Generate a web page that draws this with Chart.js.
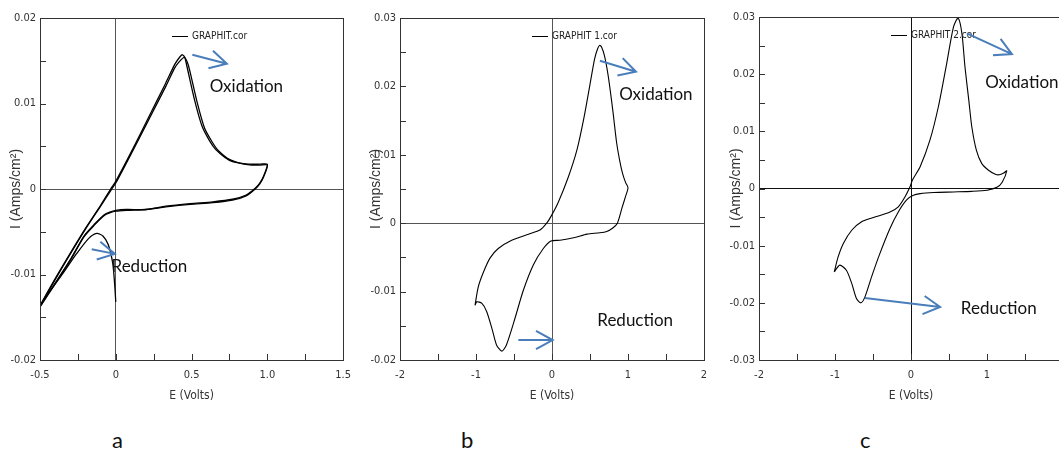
<!DOCTYPE html>
<html>
<head>
<meta charset="utf-8">
<script src="https://cdn.jsdelivr.net/npm/chart.js@4.4.0/dist/chart.umd.min.js"></script>
<style>
  html, body { margin: 0; padding: 0; background: #fff; overflow: hidden; }
  body { width: 1059px; height: 456px; position: relative; }
  canvas { position: absolute; top: 0; }
  .tag { position: absolute; top: 427px; font: 22px Lato, 'Open Sans', sans-serif; line-height: 26px; color: #111; }
</style>
</head>
<body>
<canvas id="chartA" width="360" height="420" style="left:0px"></canvas>
<canvas id="chartB" width="360" height="420" style="left:360px"></canvas>
<canvas id="chartC" width="360" height="420" style="left:720px"></canvas>
<div class="tag" style="left:112px">a</div>
<div class="tag" style="left:461px">b</div>
<div class="tag" style="left:860px">c</div>
<script>
// panel a : GRAPHIT.cor (start transient + two cycles)
var aE1 = [0, -0.008, -0.02, -0.05, -0.085, -0.125, -0.18, -0.26, -0.35, -0.44, -0.5,
  -0.41, -0.3, -0.2, -0.1, -0.03, 0, 0.11, 0.22, 0.33, 0.39, 0.425, 0.44, 0.455, 0.47, 0.52, 0.57, 0.62, 0.66, 0.72, 0.77, 0.83, 0.88, 0.95, 1.0,
  0.975, 0.95, 0.92, 0.86, 0.77, 0.64, 0.49, 0.33, 0.2, 0.07, 0, -0.04, -0.076, -0.14, -0.21, -0.295, -0.4, -0.5];
var aI1 = [-0.0132, -0.011, -0.0087, -0.0065, -0.0055, -0.0052, -0.0058, -0.0076, -0.0099, -0.0121, -0.0137,
  -0.0108, -0.0075, -0.0046, -0.0019, 0.0001, 0.0009, 0.0046, 0.0085, 0.0124, 0.0146, 0.0155, 0.0157, 0.0154, 0.0143, 0.0104, 0.0073, 0.0056, 0.0046, 0.0037, 0.0032, 0.003, 0.0029, 0.0029, 0.0029,
  0.0015, 0.0007, 0.0001, -0.0007, -0.0012, -0.0015, -0.0017, -0.002, -0.0024, -0.0024, -0.0025, -0.0027, -0.003, -0.0041, -0.0055, -0.0081, -0.011, -0.0137];
var aE2 = [-0.5, -0.4, -0.3, -0.2, -0.1, -0.03, 0, 0.11, 0.22, 0.33, 0.39, 0.43, 0.452, 0.47, 0.486, 0.536, 0.586, 0.636, 0.676, 0.736, 0.786, 0.846, 0.896, 0.95, 1.0,
  0.975, 0.95, 0.92, 0.86, 0.77, 0.64, 0.49, 0.33, 0.2, 0.07, 0, -0.04, -0.076, -0.14, -0.21, -0.295, -0.4, -0.5];
var aI2 = [-0.0137, -0.0106, -0.0076, -0.0047, -0.002, -0.0001, 0.0007, 0.0044, 0.0082, 0.012, 0.0142, 0.0151, 0.0154, 0.0149, 0.014, 0.0102, 0.0071, 0.0055, 0.0045, 0.0036, 0.0032, 0.0029, 0.0028, 0.0028, 0.0028,
  0.0014, 0.0006, 0.0, -0.0008, -0.0013, -0.0016, -0.0018, -0.0021, -0.0024, -0.0025, -0.0026, -0.0028, -0.0031, -0.0042, -0.0056, -0.0082, -0.0111, -0.0138];

// panel b : GRAPHIT 1.cor
var bE = [-1.013, -0.99, -0.925, -0.86, -0.79, -0.73, -0.66, -0.6, -0.487, -0.377, -0.246, -0.114, -0.013, 0.105, 0.3, 0.46, 0.63, 0.72, 0.8, 0.86, 0.92, 0.97, 1.0,
  0.97, 0.93, 0.89, 0.85, 0.8, 0.74, 0.69, 0.65, 0.625, 0.6, 0.56, 0.5, 0.42, 0.33, 0.21, 0.08, -0.013, -0.07, -0.158, -0.31, -0.53, -0.707, -0.816, -0.9, -0.97, -1.013];
var bI = [-0.012, -0.0115, -0.0117, -0.0129, -0.0154, -0.0178, -0.0187, -0.0178, -0.0139, -0.0098, -0.0061, -0.0037, -0.0026, -0.0025, -0.0021, -0.0016, -0.0014, -0.0012, -0.0007, 0.0, 0.0022, 0.004, 0.0052,
  0.0059, 0.0072, 0.0092, 0.0118, 0.0165, 0.0215, 0.0245, 0.0258, 0.026, 0.0255, 0.024, 0.0203, 0.0154, 0.0108, 0.0066, 0.003, 0.001, 0.0, -0.001, -0.0016, -0.0025, -0.0037, -0.0051, -0.0071, -0.0093, -0.012];

// panel c : GRAPHIT 2.cor
var cE = [-1.01, -0.937, -0.85, -0.78, -0.716, -0.66, -0.607, -0.52, -0.41, -0.277, -0.167, -0.057, 0.03, 0.12, 0.3, 0.56, 0.8, 1.0, 1.13, 1.2, 1.26,
  1.22, 1.16, 1.11, 1.02, 0.93, 0.86, 0.8, 0.76, 0.71, 0.67, 0.62, 0.56, 0.47, 0.36, 0.25, 0.12, 0.02, -0.013, -0.08, -0.167, -0.277, -0.475, -0.65, -0.78, -0.89, -0.96, -1.01];
var cI = [-0.0146, -0.0134, -0.0143, -0.0166, -0.0193, -0.02, -0.019, -0.0155, -0.0114, -0.007, -0.0041, -0.002, -0.0012, -0.0009, -0.0007, -0.0006, -0.0005, -0.0003, 0.0002, 0.0011, 0.0031,
  0.0027, 0.0024, 0.0025, 0.0032, 0.0044, 0.0067, 0.0108, 0.0155, 0.0213, 0.0271, 0.0298, 0.0283, 0.0219, 0.0143, 0.0085, 0.0038, 0.0015, 0.0003, -0.0015, -0.0032, -0.0041, -0.005, -0.0058, -0.0073, -0.0096, -0.012, -0.0146];

// ticks
var aXTicks = [-0.5, 0, 0.5, 1.0, 1.5], aXLabels = ['-0.5', '0', '0.5', '1.0', '1.5'];
var aYTicks = [-0.02, -0.01, 0, 0.01, 0.02], aYLabels = ['-0.02', '-0.01', '0', '0.01', '0.02'];
var bXTicks = [-2, -1, 0, 1, 2], bXLabels = ['-2', '-1', '0', '1', '2'];
var bYTicks = [-0.02, -0.01, 0, 0.01, 0.02, 0.03], bYLabels = ['-0.02', '-0.01', '0', '0.01', '0.02', '0.03'];
var cXTicks = [-2, -1, 0, 1, 2], cXLabels = ['-2', '-1', '0', '1', '2'];
var cYTicks = [-0.03, -0.02, -0.01, 0, 0.01, 0.02, 0.03], cYLabels = ['-0.03', '-0.02', '-0.01', '0', '0.01', '0.02', '0.03'];

var narrow = "'Liberation Sans Narrow', 'DejaVu Sans', sans-serif";
var blue = '#4a7ebb';

// frame, inner ticks, legend, arrows and notes
var decor = {
  id: 'decor',
  afterDraw: function(chart, args, o) {
    var ctx = chart.ctx, ca = chart.chartArea, x = chart.scales.x, y = chart.scales.y;
    ctx.save();
    ctx.strokeStyle = '#333';
    ctx.lineWidth = 1;
    ctx.beginPath();
    var n = Math.round((x.max - x.min) / o.xStep);
    for (var i = 0; i <= n; i++) {
      var px = Math.round(x.getPixelForValue(x.min + i * o.xStep)) + 0.5;
      ctx.moveTo(px, ca.bottom); ctx.lineTo(px, ca.bottom - 6);
    }
    n = Math.round((y.max - y.min) / o.yStep);
    for (i = 0; i <= n; i++) {
      var py = Math.round(y.getPixelForValue(y.min + i * o.yStep)) + 0.5;
      ctx.moveTo(ca.left, py); ctx.lineTo(ca.left + 6, py);
    }
    ctx.stroke();
    ctx.strokeRect(Math.round(ca.left) + 0.5, Math.round(ca.top) + 0.5, Math.round(ca.width), Math.round(ca.height));

    // legend
    var lx = ca.left + 132, ly = ca.top + 18;
    ctx.strokeStyle = '#000';
    ctx.beginPath(); ctx.moveTo(lx, ly + 0.5); ctx.lineTo(lx + 16, ly + 0.5); ctx.stroke();
    ctx.fillStyle = '#222';
    ctx.font = 'normal condensed 10px ' + narrow;
    ctx.textBaseline = 'middle';
    ctx.fillText(chart.data.datasets[0].label, lx + 20, ly);

    // arrows
    ctx.strokeStyle = blue;
    ctx.lineWidth = 2;
    o.arrows.forEach(function(a) {
      var x1 = x.getPixelForValue(a[0]), y1 = y.getPixelForValue(a[1]);
      var x2 = x.getPixelForValue(a[2]), y2 = y.getPixelForValue(a[3]);
      var ang = Math.atan2(y2 - y1, x2 - x1), len = 19, h = 0.5;
      ctx.beginPath();
      ctx.moveTo(x1, y1); ctx.lineTo(x2, y2);
      ctx.moveTo(x2 - len * Math.cos(ang - h), y2 - len * Math.sin(ang - h));
      ctx.lineTo(x2, y2);
      ctx.lineTo(x2 - len * Math.cos(ang + h), y2 - len * Math.sin(ang + h));
      ctx.stroke();
    });

    // notes
    ctx.fillStyle = '#111';
    ctx.font = '17px Lato, sans-serif';
    ctx.textAlign = 'left';
    o.notes.forEach(function(t) {
      ctx.fillText(t[0], x.getPixelForValue(t[1]), y.getPixelForValue(t[2]));
    });
    ctx.restore();
  }
};

function toPoints(xs, ys) {
  return xs.map(function(v, i) { return {x: v, y: ys[i]}; });
}

function makePanel(id, cfg) {
  var zero = function(ctx) {
    return Math.abs(ctx.tick.value) < 1e-9 ? cfg.zeroColor : 'rgba(0,0,0,0)';
  };
  var small = {family: narrow, size: 11, weight: 'normal condensed'};
  return new Chart(document.getElementById(id), {
    type: 'scatter',
    data: {
      datasets: cfg.series.map(function(s) {
        return {label: s.label, data: toPoints(s.x, s.y), showLine: true, borderColor: '#000',
          borderWidth: cfg.lineWidth, pointRadius: 0, tension: 0.25, fill: false};
      })
    },
    options: {
      responsive: false,
      animation: false,
      events: [],
      layout: {padding: {top: cfg.top, right: cfg.right, left: 0, bottom: 0}},
      plugins: {
        legend: {display: false},
        tooltip: {enabled: false},
        decor: {xStep: cfg.xStep, yStep: cfg.yStep, arrows: cfg.arrows, notes: cfg.notes}
      },
      scales: {
        x: {
          type: 'linear', min: cfg.xTicks[0], max: cfg.xTicks[cfg.xTicks.length - 1],
          afterBuildTicks: function(s) { s.ticks = cfg.xTicks.map(function(v) { return {value: v}; }); },
          afterFit: function(s) { s.height = 60; },
          ticks: {callback: function(v, i) { return cfg.xLabels[i]; }, font: small, color: '#333', padding: 9, maxRotation: 0, autoSkip: false},
          grid: {color: zero, lineWidth: 1, drawTicks: false},
          border: {display: false},
          title: {display: true, text: 'E (Volts)', font: {family: narrow, size: 12, weight: 'normal condensed'}, color: '#333', padding: {top: 0, bottom: 17}}
        },
        y: {
          type: 'linear', min: cfg.yTicks[0], max: cfg.yTicks[cfg.yTicks.length - 1],
          afterBuildTicks: function(s) { s.ticks = cfg.yTicks.map(function(v) { return {value: v}; }); },
          afterFit: function(s) { s.width = cfg.yWidth; },
          ticks: {callback: function(v, i) { return cfg.yLabels[i]; }, font: small, color: '#333', padding: 4, autoSkip: false},
          grid: {color: zero, lineWidth: 1, drawTicks: false},
          border: {display: false},
          title: {display: true, text: 'I (Amps/cm²)', font: {family: "'Liberation Sans', Arial, sans-serif", size: 14}, color: '#333', padding: {top: 8, bottom: 0}}
        }
      }
    },
    plugins: [decor]
  });
}

makePanel('chartA', {
  series: [{label: 'GRAPHIT.cor', x: aE1, y: aI1}, {label: 'GRAPHIT.cor', x: aE2, y: aI2}],
  xTicks: aXTicks, xLabels: aXLabels, yTicks: aYTicks, yLabels: aYLabels,
  xStep: 0.25, yStep: 0.005, lineWidth: 1.3, zeroColor: '#555',
  top: 18, right: 15, yWidth: 40,
  arrows: [[0.505, 0.0157, 0.733, 0.01466], [-0.159, -0.00704, -0.006, -0.00759]],
  notes: [['Oxidation', 0.62, 0.01196], ['Reduction', -0.028, -0.0091]]
});

makePanel('chartB', {
  series: [{label: 'GRAPHIT 1.cor', x: bE, y: bI}],
  xTicks: bXTicks, xLabels: bXLabels, yTicks: bYTicks, yLabels: bYLabels,
  xStep: 0.5, yStep: 0.005, lineWidth: 1.1, zeroColor: '#555',
  top: 18, right: 16, yWidth: 40,
  arrows: [[0.63, 0.02376, 1.105, 0.02215], [-0.443, -0.01708, 0.009, -0.01708]],
  notes: [['Oxidation', 0.885, 0.01879], ['Reduction', 0.596, -0.01426]]
});

makePanel('chartC', {
  series: [{label: 'GRAPHIT 2.cor', x: cE, y: cI}],
  xTicks: cXTicks, xLabels: cXLabels, yTicks: cYTicks, yLabels: cYLabels,
  xStep: 0.5, yStep: 0.005, lineWidth: 1.1, zeroColor: '#111',
  top: 17, right: 17, yWidth: 39,
  arrows: [[0.735, 0.02714, 1.328, 0.02352], [-0.607, -0.01916, 0.383, -0.02073]],
  notes: [['Oxidation', 0.976, 0.01856], ['Reduction', 0.656, -0.021]]
});
</script>
</body>
</html>
